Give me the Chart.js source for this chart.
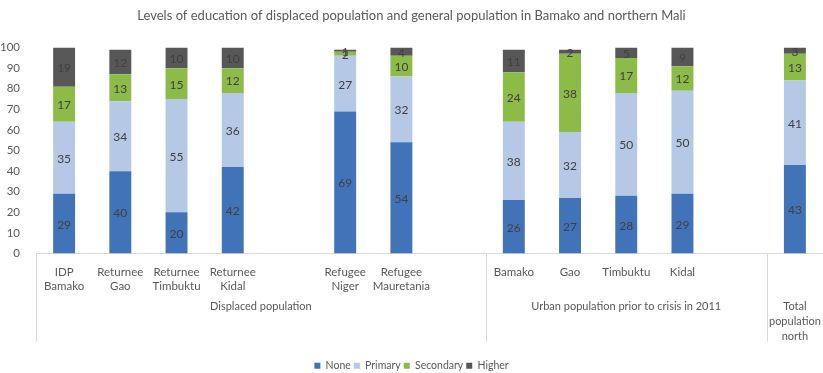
<!DOCTYPE html>
<html>
<head>
<meta charset="utf-8">
<script src="https://cdn.jsdelivr.net/npm/chart.js@4/dist/chart.umd.min.js"></script>
<style>
  html, body { margin: 0; padding: 0; background: #fff; }
  #wrap { width: 823px; height: 373px; }
</style>
</head>
<body>
<div id="wrap"><canvas id="graficoEducacao"></canvas></div>
<script>
// categorias (strings vazias = espaço entre grupos)
const categorias = [
  ['IDP', 'Bamako'], ['Returnee', 'Gao'], ['Returnee', 'Timbuktu'], ['Returnee', 'Kidal'],
  '',
  ['Refugee', 'Niger'], ['Refugee', 'Mauretania'],
  '',
  'Bamako', 'Gao', 'Timbuktu', 'Kidal',
  '',
  ''
]
const nenhum     = [29, 40, 20, 42, null, 69, 54, null, 26, 27, 28, 29, null, 43]
const primario   = [35, 34, 55, 36, null, 27, 32, null, 38, 32, 50, 50, null, 41]
const secundario = [17, 13, 15, 12, null,  2, 10, null, 24, 38, 17, 12, null, 13]
const superior   = [19, 12, 10, 10, null,  1,  4, null, 11,  2,  5,  9, null,  3]

// grupos do eixo x: nome, primeira e última categoria
const gruposNomes = [['Displaced population'], ['Urban population prior to crisis in 2011'], ['Total', 'population', 'north']]
const gruposInicio = [0, 8, 13]
const gruposFim = [7, 12, 13]

const fonte = 'Lato, "Open Sans", sans-serif'
const cinza = '#595959'

// escreve o valor no meio de cada segmento
const rotulosValores = {
  id: 'rotulosValores',
  afterDatasetsDraw(chart) {
    const ctx = chart.ctx
    ctx.save()
    ctx.font = '12px ' + fonte
    ctx.fillStyle = '#404040'
    ctx.textAlign = 'center'
    ctx.textBaseline = 'middle'
    chart.data.datasets.forEach((ds, i) => {
      chart.getDatasetMeta(i).data.forEach((bar, j) => {
        const v = ds.data[j]
        if (v === null) return
        ctx.fillText(v, bar.x, (bar.y + bar.base) / 2 + 1)
      })
    })
    ctx.restore()
  }
}

// nomes dos grupos e linhas separadoras abaixo do eixo
const gruposEixo = {
  id: 'gruposEixo',
  afterDraw(chart) {
    const x = chart.scales.x
    const ctx = chart.ctx
    const limite = (i) => {
      if (i <= 0) return x.left
      if (i >= categorias.length) return x.right
      return (x.getPixelForValue(i - 1) + x.getPixelForValue(i)) / 2
    }
    const topo = x.top
    const fundo = x.top + 88
    ctx.save()
    ctx.strokeStyle = '#d9d9d9'
    ctx.lineWidth = 1
    ;[0, 8, 13].forEach(i => {
      const px = Math.round(limite(i)) + 0.5
      ctx.beginPath()
      ctx.moveTo(px, topo)
      ctx.lineTo(px, fundo)
      ctx.stroke()
    })
    ctx.font = '11px ' + fonte
    ctx.fillStyle = cinza
    ctx.textAlign = 'center'
    ctx.textBaseline = 'middle'
    gruposNomes.forEach((linhas, g) => {
      const cx = (limite(gruposInicio[g]) + limite(gruposFim[g] + 1)) / 2
      linhas.forEach((t, k) => {
        ctx.fillText(t, cx, x.top + 53 + k * 15)
      })
    })
    ctx.restore()
  }
}

new Chart(document.getElementById('graficoEducacao'), {
  type: 'bar',
  data: {
    labels: categorias,
    datasets: [
      { label: 'None', data: nenhum, backgroundColor: '#4173b8' },
      { label: 'Primary', data: primario, backgroundColor: '#b5c8e6' },
      { label: 'Secondary', data: secundario, backgroundColor: '#8dbb48' },
      { label: 'Higher', data: superior, backgroundColor: '#575757' }
    ]
  },
  options: {
    responsive: true,
    maintainAspectRatio: false,
    animation: false,
    barPercentage: 0.39,
    categoryPercentage: 1,
    layout: { padding: { left: 0, right: 0, top: 0, bottom: -8 } },
    scales: {
      x: {
        stacked: true,
        grid: { display: false, drawTicks: false },
        border: { color: '#d9d9d9' },
        ticks: {
          autoSkip: false, maxRotation: 0, padding: 12,
          color: cinza, font: { family: fonte, size: 11.5 }
        },
        afterFit: s => { s.height = 104 }
      },
      y: {
        stacked: true,
        min: 0, max: 100,
        grid: { display: false },
        border: { display: false },
        ticks: {
          stepSize: 10, padding: 8,
          color: cinza, font: { family: fonte, size: 11.5 }
        },
        afterFit: s => { s.width = 36 }
      }
    },
    plugins: {
      title: {
        display: true,
        text: 'Levels of education of displaced population and general population in Bamako and northern Mali',
        color: cinza,
        font: { family: fonte, size: 13, weight: 'normal' },
        padding: { top: 8, bottom: 24 }
      },
      legend: {
        position: 'bottom',
        labels: {
          boxWidth: 6, boxHeight: 6, padding: 3,
          color: cinza, font: { family: fonte, size: 10.5 }
        }
      },
      tooltip: { enabled: false }
    }
  },
  plugins: [rotulosValores, gruposEixo]
})
</script>
</body>
</html>
